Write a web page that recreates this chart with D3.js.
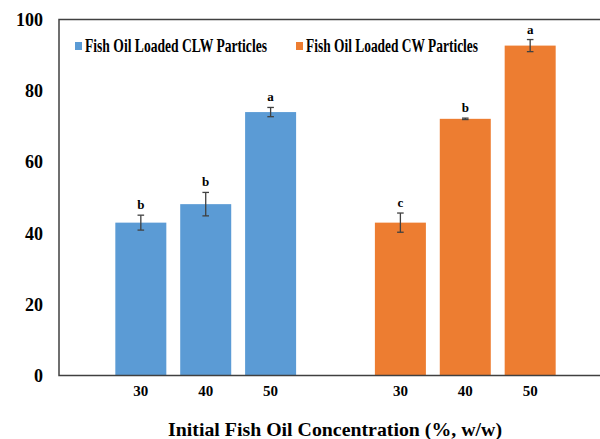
<!DOCTYPE html>
<html>
<head>
<meta charset="utf-8">
<script src="https://cdn.jsdelivr.net/npm/d3@7"></script>
<style>
  body { margin: 0; background: #fff; }
  text { font-family: "Liberation Serif", "Times New Roman", serif; font-weight: bold; fill: #000; }
</style>
</head>
<body>
<div id="chart"></div>
<script>
// Data
const concentrations = ["30", "40", "50"];
const clwValues = [43.0, 48.2, 74.1];
const clwErrors = [2.1, 3.3, 1.3];
const clwLetters = ["b", "b", "a"];
const cwValues = [43.0, 72.2, 92.8];
const cwErrors = [2.7, 0.2, 1.7];
const cwLetters = ["c", "b", "a"];
const yTicks = [0, 20, 40, 60, 80, 100];
const seriesNames = ["Fish Oil Loaded CLW Particles", "Fish Oil Loaded CW Particles"];
const colors = ["#5B9BD5", "#ED7D31"];

const width = 600, height = 439;
const plotLeft = 59, plotTop = 20, plotBottom = 375.5;

// build rows, one empty slot between the two groups
let rows = [];
concentrations.forEach(function (c, i) {
  rows.push({key: "clw" + c, label: c, v: clwValues[i], e: clwErrors[i], t: clwLetters[i], s: 0});
});
concentrations.forEach(function (c, i) {
  rows.push({key: "cw" + c, label: c, v: cwValues[i], e: cwErrors[i], t: cwLetters[i], s: 1});
});
let slots = rows.slice(0, 3).map(d => d.key).concat(["gap"], rows.slice(3).map(d => d.key));

let svg = d3.select("#chart").append("svg")
  .attr("width", width)
  .attr("height", height);

let x = d3.scaleBand()
  .domain(slots)
  .range([plotLeft, 612])
  .paddingInner(0.214)
  .paddingOuter(0.868);

let y = d3.scaleLinear()
  .domain([0, 100])
  .range([plotBottom, plotTop]);

// Bars
svg.selectAll("rect.bar")
  .data(rows)
  .enter()
  .append("rect")
  .attr("class", "bar")
  .attr("x", d => x(d.key))
  .attr("width", x.bandwidth())
  .attr("y", d => y(d.v))
  .attr("height", d => y(0) - y(d.v))
  .attr("fill", d => colors[d.s]);

// Error bars
let err = svg.selectAll("g.err")
  .data(rows)
  .enter()
  .append("g")
  .attr("class", "err")
  .attr("stroke", "#404040")
  .attr("stroke-width", 1.3);

err.append("line")
  .attr("x1", d => x(d.key) + x.bandwidth() / 2)
  .attr("x2", d => x(d.key) + x.bandwidth() / 2)
  .attr("y1", d => y(d.v + d.e))
  .attr("y2", d => y(d.v - d.e));
err.append("line")
  .attr("x1", d => x(d.key) + x.bandwidth() / 2 - 3.3)
  .attr("x2", d => x(d.key) + x.bandwidth() / 2 + 3.3)
  .attr("y1", d => y(d.v + d.e))
  .attr("y2", d => y(d.v + d.e));
err.append("line")
  .attr("x1", d => x(d.key) + x.bandwidth() / 2 - 3.3)
  .attr("x2", d => x(d.key) + x.bandwidth() / 2 + 3.3)
  .attr("y1", d => y(d.v - d.e))
  .attr("y2", d => y(d.v - d.e));

// Significance letters
svg.selectAll("text.sig")
  .data(rows)
  .enter()
  .append("text")
  .attr("class", "sig")
  .attr("x", d => x(d.key) + x.bandwidth() / 2)
  .attr("y", d => y(d.v + d.e) - 6)
  .attr("text-anchor", "middle")
  .style("font-size", "13px")
  .text(d => d.t);

// Y axis
let yAxis = svg.append("g")
  .attr("transform", "translate(" + plotLeft + ",0)")
  .call(d3.axisLeft(y).tickValues(yTicks).tickSize(0).tickPadding(16));
yAxis.select(".domain").remove();
yAxis.selectAll("text").style("font-size", "18px");

// X axis
let xAxis = svg.append("g")
  .attr("transform", "translate(0," + plotBottom + ")")
  .call(d3.axisBottom(x)
    .tickValues(rows.map(d => d.key))
    .tickFormat(k => rows.find(d => d.key === k).label)
    .tickSize(0).tickPadding(10));
xAxis.select(".domain").remove();
xAxis.selectAll("text").style("font-size", "15px");

// Frame lines
svg.append("path")
  .attr("d", "M606," + (plotTop - 0.5) + "H" + plotLeft + "V" + plotBottom + "H606")
  .attr("fill", "none")
  .attr("stroke", "#404040")
  .attr("stroke-width", 1.5);

// Legend
let legendX = [75, 296];
let legendLen = [182, 172];
let legend = svg.selectAll("g.legend")
  .data(seriesNames)
  .enter()
  .append("g")
  .attr("class", "legend");
legend.append("rect")
  .attr("x", (d, i) => legendX[i])
  .attr("y", 42)
  .attr("width", 7)
  .attr("height", 8)
  .attr("fill", (d, i) => colors[i]);
legend.append("text")
  .attr("x", (d, i) => legendX[i] + 10)
  .attr("y", 52)
  .attr("textLength", (d, i) => legendLen[i])
  .attr("lengthAdjust", "spacingAndGlyphs")
  .style("font-size", "18px")
  .text(d => d);

// Axis title
svg.append("text")
  .attr("x", 168)
  .attr("y", 436)
  .attr("textLength", 334)
  .attr("lengthAdjust", "spacingAndGlyphs")
  .style("font-size", "19px")
  .text("Initial Fish Oil Concentration (%, w/w)");
</script>
</body>
</html>
